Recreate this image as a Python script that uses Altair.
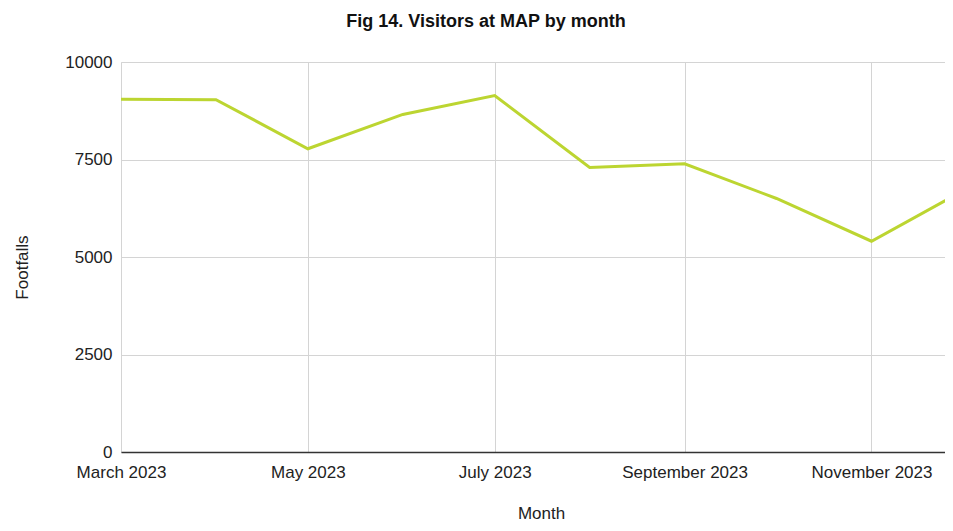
import altair as alt
import pandas as pd

months = ["2023-03-01", "2023-04-01", "2023-05-01", "2023-06-01", "2023-07-01",
          "2023-08-01", "2023-09-01", "2023-10-01", "2023-11-01", "2023-12-01"]
footfalls = [9045, 9035, 7775, 8655, 9140, 7295, 7390, 6500, 5405, 6700]
tick_months = ["2023-03-01", "2023-05-01", "2023-07-01", "2023-09-01", "2023-11-01"]
y_ticks = [0, 2500, 5000, 7500, 10000]

df = pd.DataFrame({"Month": pd.to_datetime(months), "Footfalls": footfalls})

FONT = "Liberation Sans"

tick_vals = [alt.DateTime(year=int(d[:4]), month=int(d[5:7]), date=1) for d in tick_months]

chart = alt.Chart(df).mark_line(color="#bcd531", strokeWidth=3, clip=True).encode(
    x=alt.X("Month:T",
            scale=alt.Scale(domain=[alt.DateTime(year=2023, month=3, date=1),
                                    alt.DateTime(year=2023, month=11, date=25)]),
            axis=alt.Axis(values=tick_vals, format="%B %Y", title="Month",
                          labelFontSize=17, labelFont=FONT, labelColor="#222",
                          labelPadding=12, ticks=False, domainColor="#333",
                          domainWidth=1.5, gridColor="#d4d4d4",
                          titleFont=FONT, titleFontSize=17, titleFontWeight="normal",
                          titleColor="#222", titleBaseline="alphabetic",
                          titleY=66, titleX=420, labelFlush=False, labelOverlap=False)),
    y=alt.Y("Footfalls:Q",
            scale=alt.Scale(domain=[0, 10000], nice=False),
            axis=alt.Axis(values=y_ticks, format="d", title="Footfalls", labelFontSize=17,
                          labelFont=FONT, labelColor="#222", labelPadding=9,
                          ticks=False, domain=False, gridColor="#d4d4d4",
                          titleFont=FONT, titleFontSize=17, titleFontWeight="normal",
                          titleColor="#222", titleBaseline="alphabetic",
                          titleX=-94, titleY=205)),
).properties(
    width=824,
    height=390,
    padding={"left": 113, "top": 54, "right": 0, "bottom": 71},
    autosize=alt.AutoSizeParams(type="none"),
    title=alt.TitleParams("Fig 14. Visitors at MAP by month", font=FONT, fontSize=18,
                          fontWeight="bold", color="#111",
                          anchor="middle", offset=8, baseline="alphabetic", dx=-47),
).configure_view(stroke=None).configure(background="white")

chart.save("out.html", embed_options={"renderer": "svg", "actions": False})
